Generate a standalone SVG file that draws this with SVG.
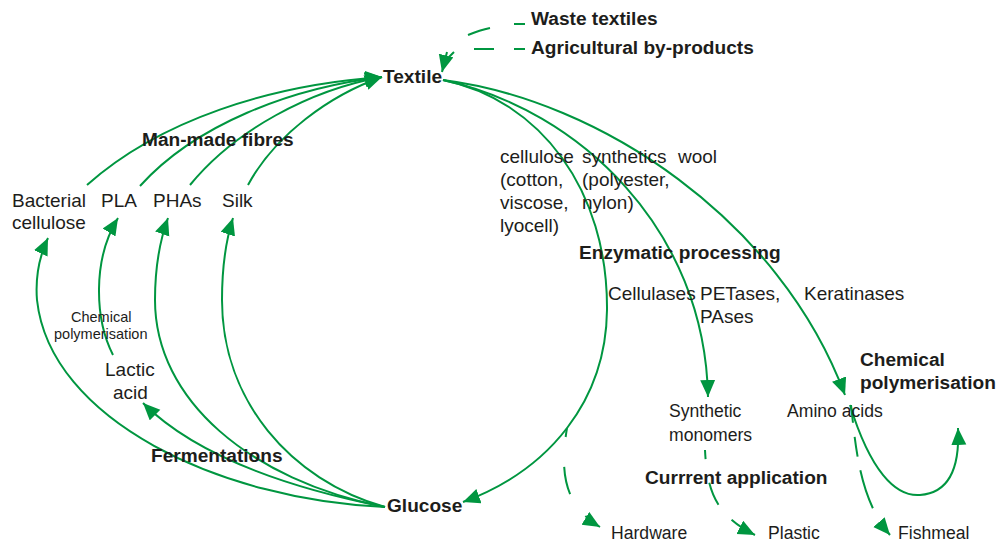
<svg xmlns="http://www.w3.org/2000/svg" width="998" height="543" viewBox="0 0 998 543">
<style>
.t{font-family:"Liberation Sans",Arial,sans-serif;font-size:19px;fill:#1d1d1b}
.b{font-family:"Liberation Sans",Arial,sans-serif;font-size:19.1px;font-weight:bold;fill:#1d1d1b}
.s{font-family:"Liberation Sans",Arial,sans-serif;font-size:14.5px;fill:#1d1d1b}
.m{font-family:"Liberation Sans",Arial,sans-serif;font-size:17.6px;fill:#1d1d1b}
.c{fill:none;stroke:#009640;stroke-width:2}
.a{marker-end:url(#ah)}
</style>
<defs>
<marker id="ah" markerUnits="userSpaceOnUse" markerWidth="18" markerHeight="16" refX="17" refY="7.5" orient="auto" viewBox="0 0 18 16">
<path d="M0,0 L17,7.5 L0,15 z" fill="#009640"/>
</marker>
</defs>
<rect width="998" height="543" fill="#fff"/>
<g id="connectors">
<path class="c" d="M525,24 L514,24 M490,28 Q480,30 468,35 M447,52 L442,72" marker-end="url(#ah)"/>
<path class="c" d="M525,49 L514,49 M494,49 L474,49 M454,52 L449,57"/>
<path class="c a" d="M87,185 C160,120 270,85 382,77"/>
<path class="c a" d="M140,186 C195,125 290,88 382,77"/>
<path class="c a" d="M190,185 C235,130 310,90 382,77"/>
<path class="c a" d="M248,185 C275,135 330,95 382,77"/>
<path class="c a" d="M385,507 C220,500 50,420 37,300 C35,275 40,255 48,238"/>
<path class="c a" d="M385,507 C300,490 200,460 143,403"/>
<path class="c a" d="M385,507 C250,480 155,400 155,300 C155,265 160,240 168,218"/>
<path class="c a" d="M385,507 C290,480 222,400 222,300 C222,265 226,240 233,218"/>
<path class="c a" d="M113,355 C95,320 92,260 118,218"/>
<path class="c a" d="M443,80 C540,100 608,190 607,310 C606,400 550,470 463,502"/>
<path class="c a" d="M443,80 C580,110 705,230 708,397"/>
<path class="c a" d="M443,80 C600,100 780,220 845,395"/>
<path class="c a" d="M850,405 C870,470 895,497 920,495 C948,493 960,470 958,428"/>
<path class="c a" stroke-dasharray="9 30 28 27 30" d="M567,428 C560,470 563,505 600,527"/>
<path class="c a" stroke-dasharray="9 24 24 20 30" d="M705,450 C707,490 715,515 755,535"/>
<path class="c a" stroke-dasharray="18 14 20 14 40" d="M851,405 C856,450 860,500 890,535"/>
</g>
<g id="waste"><text class="b" x="531" y="25">Waste textiles</text></g>
<g id="agri"><text class="b" x="531" y="54">Agricultural by-products</text></g>
<g id="textile"><text class="b" x="383" y="83">Textile</text></g>
<g id="manmade"><text class="b" x="142" y="146">Man-made fibres</text></g>
<g id="bacterial"><text class="t" x="12" y="207">Bacterial</text><text class="t" x="12" y="229">cellulose</text></g>
<g id="pla"><text class="t" x="101" y="207">PLA</text></g>
<g id="phas"><text class="t" x="153" y="207">PHAs</text></g>
<g id="silk"><text class="t" x="222" y="207">Silk</text></g>
<g id="chempoly1"><text class="s" x="71" y="322">Chemical</text><text class="s" x="54" y="339">polymerisation</text></g>
<g id="lactic"><text class="t" x="105" y="376">Lactic</text><text class="t" x="113" y="399">acid</text></g>
<g id="ferment"><text class="b" x="151" y="462">Fermentations</text></g>
<g id="glucose"><text class="b" x="387" y="512">Glucose</text></g>
<g id="cellulose"><text class="t" x="500" y="163">cellulose</text><text class="t" x="500" y="186">(cotton,</text><text class="t" x="500" y="209">viscose,</text><text class="t" x="500" y="232">lyocell)</text></g>
<g id="synthetics"><text class="t" x="582" y="163">synthetics</text><text class="t" x="582" y="186">(polyester,</text><text class="t" x="582" y="209">nylon)</text></g>
<g id="wool"><text class="t" x="678" y="163">wool</text></g>
<g id="enzymatic"><text class="b" x="579" y="259">Enzymatic processing</text></g>
<g id="cellulases"><text class="t" x="608" y="300">Cellulases</text></g>
<g id="petases"><text class="t" x="700" y="300">PETases,</text><text class="t" x="700" y="323">PAses</text></g>
<g id="keratinases"><text class="t" x="804" y="300">Keratinases</text></g>
<g id="chempoly2"><text class="b" x="860" y="366">Chemical</text><text class="b" x="860" y="389">polymerisation</text></g>
<g id="synmono"><text class="m" x="669" y="417">Synthetic</text><text class="m" x="669" y="441">monomers</text></g>
<g id="amino"><text class="m" x="787" y="417">Amino acids</text></g>
<g id="current"><text class="b" x="645" y="484">Currrent application</text></g>
<g id="hardware"><text class="m" x="611" y="539">Hardware</text></g>
<g id="plastic"><text class="m" x="768" y="539">Plastic</text></g>
<g id="fishmeal"><text class="m" x="898" y="539">Fishmeal</text></g>
</svg>
